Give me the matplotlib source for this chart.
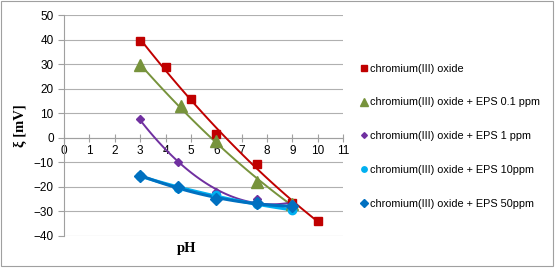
import numpy as np
import matplotlib
matplotlib.use("Agg")
import matplotlib.pyplot as plt

# values
ph_cr = [3, 4, 5, 6, 7.6, 9, 10]
zeta_cr = [39.5, 29, 15.8, 1.5, -10.5, -26.5, -34]

ph_01 = [3, 4.6, 6, 7.6, 9]
zeta_01 = [29.5, 12.8, -1.5, -18, -27]

ph_1 = [3, 4.5, 6, 7.6, 9]
zeta_1 = [7.5, -10, -22, -25, -27]

ph_10 = [3, 4.5, 6, 7.6, 9]
zeta_10 = [-15.5, -20.5, -23.5, -27, -29.5]

ph_50 = [3, 4.5, 6, 7.6, 9]
zeta_50 = [-15.5, -20, -25, -26.5, -28]

labels = ["chromium(III) oxide",
          "chromium(III) oxide + EPS 0.1 ppm",
          "chromium(III) oxide + EPS 1 ppm",
          "chromium(III) oxide + EPS 10ppm",
          "chromium(III) oxide + EPS 50ppm"]

series = [
    (ph_cr, zeta_cr, "#C00000", "s", 6, 1.4),
    (ph_01, zeta_01, "#77933C", "^", 8, 1.4),
    (ph_1, zeta_1, "#7030A0", "D", 4.5, 1.4),
    (ph_10, zeta_10, "#00B0F0", "o", 6, 2.2),
    (ph_50, zeta_50, "#0070C0", "D", 6, 2.2),
]

fig = plt.figure(figsize=(5.57, 2.69), dpi=100)
ax = fig.add_axes([0.115, 0.123, 0.501, 0.821])

handles = []
for (x, y, col, mk, ms, lw), lab in zip(series, labels):
    x = np.array(x, dtype=float)
    y = np.array(y, dtype=float)
    # polynomial trendline like the spreadsheet
    p = np.polyfit(x, y, 2)
    xs = np.linspace(x.min(), x.max(), 100)
    ax.plot(xs, np.polyval(p, xs), color=col, lw=lw, zorder=3)
    h, = ax.plot(x, y, ls="none", marker=mk, ms=ms, color=col,
                 mec=col, zorder=4, label=lab)
    handles.append(h)

ax.set_xlim(0, 11)
ax.set_ylim(-40, 50)
ax.set_xticks(range(0, 12))
ax.set_yticks(range(-40, 51, 10))
ax.yaxis.grid(True, color="#B0B0B0", lw=0.8)
ax.set_axisbelow(True)

for s in ["top", "right"]:
    ax.spines[s].set_visible(False)
ax.spines["bottom"].set_position(("data", 0))
ax.spines["bottom"].set_color("#A0A0A0")
ax.spines["left"].set_color("#A0A0A0")
ax.tick_params(axis="x", direction="inout", length=6, color="#A0A0A0",
               labelsize=8.5, pad=2)
ax.tick_params(axis="y", direction="out", length=4, color="#A0A0A0",
               labelsize=8.5)
for t in ax.get_xticklabels() + ax.get_yticklabels():
    t.set_fontfamily("Liberation Sans")

ax.set_ylabel("ξ [mV]", fontfamily="Liberation Serif", fontweight="bold",
              fontsize=10.5, labelpad=5)
fig.text(0.335, 0.075, "pH", fontfamily="Liberation Serif", fontweight="bold",
         fontsize=10.5, ha="center", va="center")

fig.legend(handles=handles, loc="upper left", bbox_to_anchor=(0.633, 0.80),
           frameon=False, prop={"family": "Liberation Sans", "size": 7.8},
           handlelength=0.4, handletextpad=0.3, labelspacing=2.2,
           markerscale=0.65)

# outer frame
fig.patches.append(plt.Rectangle((0.002, 0.01), 0.99, 0.985,
                                 transform=fig.transFigure, fill=False,
                                 ec="#A0A0A0", lw=0.8))

fig.savefig("out.png", dpi=100)
